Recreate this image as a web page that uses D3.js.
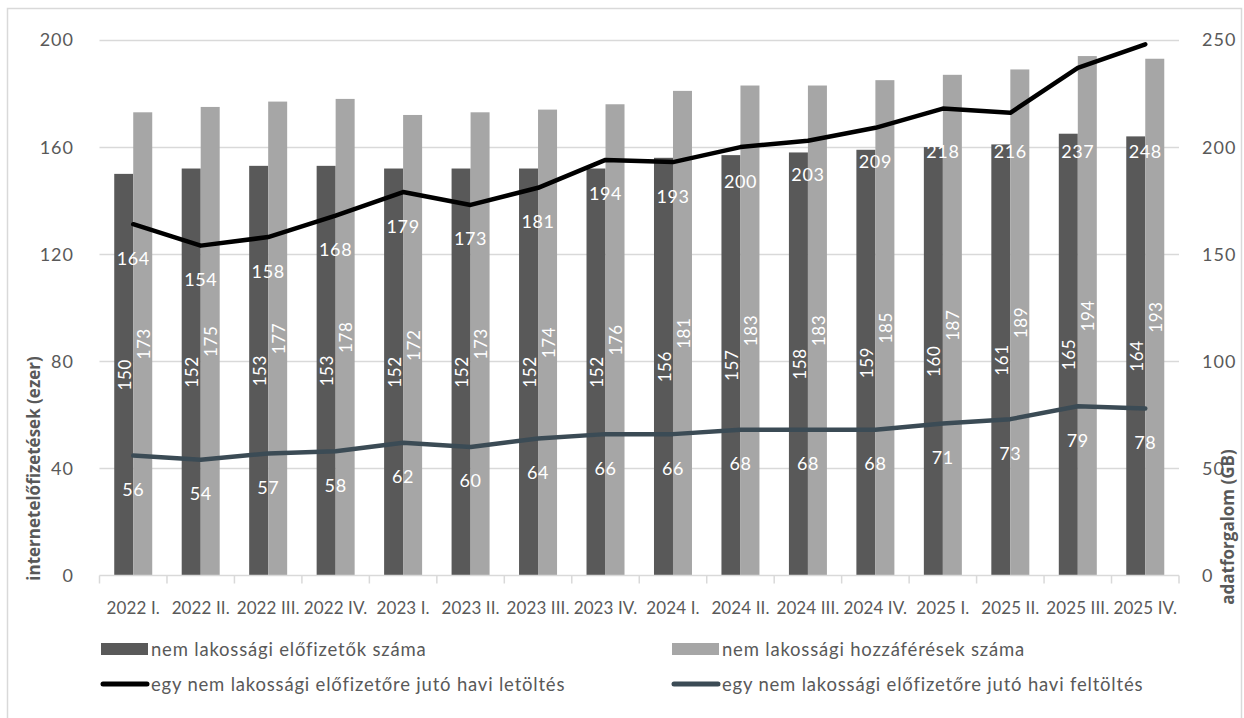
<!DOCTYPE html>
<html><head><meta charset="utf-8">
<script src="https://cdn.jsdelivr.net/npm/d3@7"></script>
<style>
html,body{margin:0;padding:0;background:#fff;}
svg{display:block;font-family:Lato,"Open Sans",sans-serif;}
</style></head>
<body>
<svg id="chart" width="1244" height="718"></svg>
<script>
const categories = ["2022 I.","2022 II.","2022 III.","2022 IV.","2023 I.","2023 II.","2023 III.","2023 IV.","2024 I.","2024 II.","2024 III.","2024 IV.","2025 I.","2025 II.","2025 III.","2025 IV."];
const subscribers = [150,152,153,153,152,152,152,152,156,157,158,159,160,161,165,164];
const accesses    = [173,175,177,178,172,173,174,176,181,183,183,185,187,189,194,193];
const download    = [164,154,158,168,179,173,181,194,193,200,203,209,218,216,237,248];
const upload      = [56,54,57,58,62,60,64,66,66,68,68,68,71,73,79,78];
const leftTicks  = [0,40,80,120,160,200];
const rightTicks = [0,50,100,150,200,250];
const seriesNames = ["nem lakossági előfizetők száma","nem lakossági hozzáférések száma","egy nem lakossági előfizetőre jutó havi letöltés","egy nem lakossági előfizetőre jutó havi feltöltés"];
const leftTitle = "internetelőfizetések (ezer)";
const rightTitle = "adatforgalom (GB)";

const C = {dark:"#595959", light:"#a6a6a6", down:"#000000", up:"#3b4b55", grid:"#d9d9d9", text:"#595959"};
const svg = d3.select("#chart");
const L = 99.5, R = 1179, T = 40, B = 575.5;

// outer border
svg.append("rect").attr("x",7.5).attr("y",8.5).attr("width",1234).attr("height",720)
  .attr("fill","none").attr("stroke",C.grid).attr("stroke-width",1.5);

const x = d3.scaleBand().domain(categories).range([L,R]).padding(0);
const bw = x.bandwidth();
const xs = d3.scaleBand().domain(["s","a"]).range([bw/2-19, bw/2+19]);
const yL = d3.scaleLinear().domain([0,200]).range([B,T]);
const yR = d3.scaleLinear().domain([0,250]).range([B,T]);

// gridlines
svg.append("g").selectAll("line").data(leftTicks.filter(d=>d>0)).join("line")
  .attr("x1",L).attr("x2",R).attr("y1",d=>Math.round(yL(d))+0.5).attr("y2",d=>Math.round(yL(d))+0.5)
  .attr("stroke",C.grid).attr("stroke-width",1.3);

// left tick labels
svg.append("g").selectAll("text").data(leftTicks).join("text")
  .attr("x",74).attr("y",d=>yL(d)).attr("dy","0.36em").attr("text-anchor","end")
  .attr("font-size",18).attr("letter-spacing",1).attr("fill",C.text).text(d=>d);
// right tick labels
svg.append("g").selectAll("text").data(rightTicks).join("text")
  .attr("x",1202).attr("y",d=>yR(d)).attr("dy","0.36em").attr("text-anchor","start")
  .attr("font-size",18).attr("letter-spacing",1).attr("fill",C.text).text(d=>d);

// bars
const g = svg.append("g");
g.selectAll("rect.s").data(categories).join("rect").attr("class","s")
  .attr("x",(c)=>x(c)+xs("s")).attr("width",xs.bandwidth())
  .attr("y",(c,i)=>yL(subscribers[i])).attr("height",(c,i)=>B-yL(subscribers[i]))
  .attr("fill",C.dark);
g.selectAll("rect.a").data(categories).join("rect").attr("class","a")
  .attr("x",(c)=>x(c)+xs("a")).attr("width",xs.bandwidth())
  .attr("y",(c,i)=>yL(accesses[i])).attr("height",(c,i)=>B-yL(accesses[i]))
  .attr("fill",C.light);

// baseline axis + ticks
svg.append("line").attr("x1",L).attr("x2",R).attr("y1",B).attr("y2",B).attr("stroke",C.grid).attr("stroke-width",1.5);
const bounds = categories.map(c=>x(c)).concat([R]);
svg.append("g").selectAll("line").data(bounds).join("line")
  .attr("x1",d=>d).attr("x2",d=>d).attr("y1",B).attr("y2",B+8).attr("stroke",C.grid).attr("stroke-width",1.5);

// bar labels (rotated)
function barLabels(vals, key){
  g.selectAll("text."+key).data(categories).join("text").attr("class",key)
    .attr("transform",(c,i)=>`translate(${x(c)+xs(key)+xs.bandwidth()/2+1},${(yL(vals[i])+B)/2}) rotate(-90)`)
    .attr("text-anchor","middle").attr("dy","0.36em").attr("font-size",17).attr("letter-spacing",0.6).attr("fill","#fff")
    .text((c,i)=>vals[i]);
}
barLabels(subscribers,"s");
barLabels(accesses,"a");

// x labels
svg.append("g").selectAll("text").data(categories).join("text")
  .attr("x",c=>x(c)+bw/2).attr("y",608).attr("dy","0.36em").attr("text-anchor","middle")
  .attr("font-size",17).attr("letter-spacing",0.1).attr("fill",C.text).text(c=>c);

// lines
const cx = c=>x(c)+bw/2;
const lineD = d3.line().x((d,i)=>cx(categories[i])).y(d=>yR(d));
svg.append("path").attr("d",lineD(upload)).attr("fill","none").attr("stroke",C.up).attr("stroke-width",4.5).attr("stroke-linejoin","round").attr("stroke-linecap","round");
svg.append("path").attr("d",lineD(download)).attr("fill","none").attr("stroke",C.down).attr("stroke-width",4.5).attr("stroke-linejoin","round").attr("stroke-linecap","round");

// line labels
svg.append("g").selectAll("text").data(download).join("text")
  .attr("x",(d,i)=>cx(categories[i])).attr("y",d=>Math.max(yR(d)+34,152)).attr("dy","0.36em")
  .attr("text-anchor","middle").attr("font-size",18).attr("letter-spacing",0.6).attr("fill","#fff").text(d=>d);
svg.append("g").selectAll("text").data(upload).join("text")
  .attr("x",(d,i)=>cx(categories[i])).attr("y",d=>yR(d)+34).attr("dy","0.36em")
  .attr("text-anchor","middle").attr("font-size",18).attr("letter-spacing",0.6).attr("fill","#fff").text(d=>d);

// axis titles
svg.append("text").attr("transform",`translate(34,${(347+590)/2}) rotate(-90)`)
  .attr("text-anchor","middle").attr("dy","0.36em").attr("font-size",17).attr("font-weight",700)
  .attr("font-family","'Open Sans',sans-serif").attr("fill",C.text).text(leftTitle);
svg.append("text").attr("transform",`translate(1228,527) rotate(-90)`)
  .attr("text-anchor","middle").attr("dy","0.36em").attr("font-size",17).attr("font-weight",700)
  .attr("font-family","'Open Sans',sans-serif").attr("fill",C.text).text(rightTitle);

// legend
const legend = [
  {name:seriesNames[0], type:"rect", color:C.dark, x:101, y:649},
  {name:seriesNames[1], type:"rect", color:C.light, x:672, y:649},
  {name:seriesNames[2], type:"line", color:C.down, x:101, y:684},
  {name:seriesNames[3], type:"line", color:C.up, x:672, y:684}
];
const lg = svg.append("g").selectAll("g").data(legend).join("g").attr("transform",d=>`translate(${d.x},${d.y})`);
lg.filter(d=>d.type==="rect").append("rect").attr("x",0).attr("y",-6).attr("width",47).attr("height",12).attr("fill",d=>d.color);
lg.filter(d=>d.type==="line").append("line").attr("x1",2).attr("x2",46).attr("y1",0).attr("y2",0)
  .attr("stroke",d=>d.color).attr("stroke-width",5).attr("stroke-linecap","round");
lg.append("text").attr("x",50).attr("y",0).attr("dy","0.36em").attr("font-size",18.5).attr("letter-spacing",0.8).attr("fill",C.text).text(d=>d.name);
</script>
</body></html>
